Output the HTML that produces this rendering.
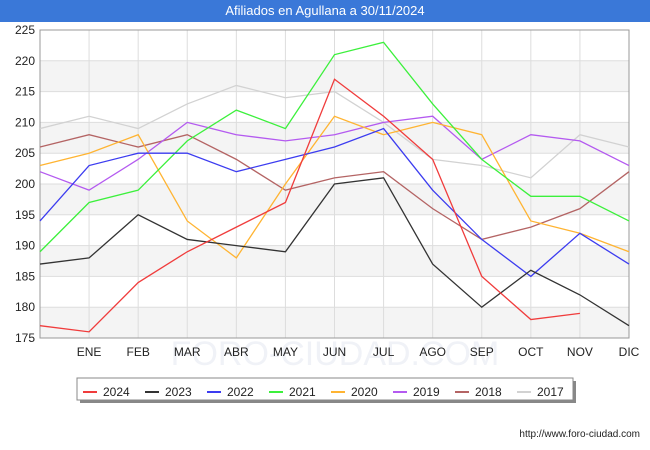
<!DOCTYPE html>
<html><head><meta charset="utf-8"><style>
body{margin:0;width:650px;height:450px;background:#fff;font-family:"Liberation Sans",sans-serif;overflow:hidden}
#title{position:absolute;left:0;top:0;width:650px;height:22px;background:#3a78d8;color:#fff;font-size:13px;text-align:center;line-height:22px}
svg{position:absolute;left:0;top:0}
</style></head><body>
<svg id="c" width="650" height="450"></svg>
<div id="title">Afiliados en Agullana a 30/11/2024</div>
<script>
const months=["","ENE","FEB","MAR","ABR","MAY","JUN","JUL","AGO","SEP","OCT","NOV","DIC"];
const yTicks=[175,180,185,190,195,200,205,210,215,220,225];
const seriesNames=["2024","2023","2022","2021","2020","2019","2018","2017"];
const colors=["#f03c3c","#333333","#3c3cf0","#3cf03c","#ffb432","#b45af0","#b46464","#d2d2d2"];
const s2024=[177,176,184,189,193,197,217,211,204,185,178,179];
const s2023=[187,188,195,191,190,189,200,201,187,180,186,182,177];
const s2022=[194,203,205,205,202,204,206,209,199,191,185,192,187];
const s2021=[189,197,199,207,212,209,221,223,213,204,198,198,194];
const s2020=[203,205,208,194,188,200,211,208,210,208,194,192,189];
const s2019=[202,199,204,210,208,207,208,210,211,204,208,207,203];
const s2018=[206,208,206,208,204,199,201,202,196,191,193,196,202];
const s2017=[209,211,209,213,216,214,215,210,204,203,201,208,206];
const allSeries=[s2024,s2023,s2022,s2021,s2020,s2019,s2018,s2017];
const X0=40,X1=629,Y0=338,Y1=30;
const x=i=>X0+i*(X1-X0)/12;
const y=v=>Y0-(v-175)*(Y0-Y1)/50;
const svg=document.getElementById('c');const NS="http://www.w3.org/2000/svg";
function mk(t,a,p){const e=document.createElementNS(NS,t);for(const k in a)e.setAttribute(k,a[k]);(p||svg).appendChild(e);return e;}
for(let v=215;v>=175;v-=10){const b=mk('rect',{x:X0,y:y(v+5),width:X1-X0,height:y(v)-y(v+5),fill:'#f4f4f4'});

}
const wm=mk('text',{x:335,y:365,'text-anchor':'middle','font-size':'34',fill:'#f0f2f7'});wm.textContent='FORO-CIUDAD.COM';


yTicks.forEach(v=>{const l=mk('line',{x1:X0,x2:X1,y1:y(v),y2:y(v),stroke:'#dddddd'});


const t=mk('text',{x:X0-5,y:y(v)+4,'text-anchor':'end','font-size':'12',fill:'#222'});t.textContent=v;

});
months.forEach((m,i)=>{if(i==0)return;const l=mk('line',{x1:x(i),x2:x(i),y1:Y1,y2:Y0,stroke:'#dddddd'});


const t=mk('text',{x:x(i),y:356,'text-anchor':'middle','font-size':'12',fill:'#222'});t.textContent=m;

});
mk('rect',{x:X0,y:Y1,width:X1-X0,height:Y0-Y1,fill:'none',stroke:'#999'});
for(let s=allSeries.length-1;s>=0;s--){const p=mk('polyline',{points:allSeries[s].map((v,i)=>x(i)+','+y(v)).join(' '),fill:'none',stroke:colors[s],'stroke-width':'1.3'});

}
const lg=mk('g',{});


mk('rect',{x:80,y:381,width:496,height:22,fill:'#888'},lg);
mk('rect',{x:77,y:378,width:496,height:22,fill:'#fff',stroke:'#888'},lg);
seriesNames.forEach((n,i)=>{const g=mk('g',{},lg);


const lx=83+i*62;mk('line',{x1:lx,x2:lx+14,y1:392,y2:392,stroke:colors[i],'stroke-width':'2'},g);
const t=mk('text',{x:lx+20,y:396,'font-size':'12',fill:'#222'},g);t.textContent=n;});
const u=mk('text',{x:640,y:437,'text-anchor':'end','font-size':'10',fill:'#222'});u.textContent='http://www.foro-ciudad.com';


</script></body></html>
